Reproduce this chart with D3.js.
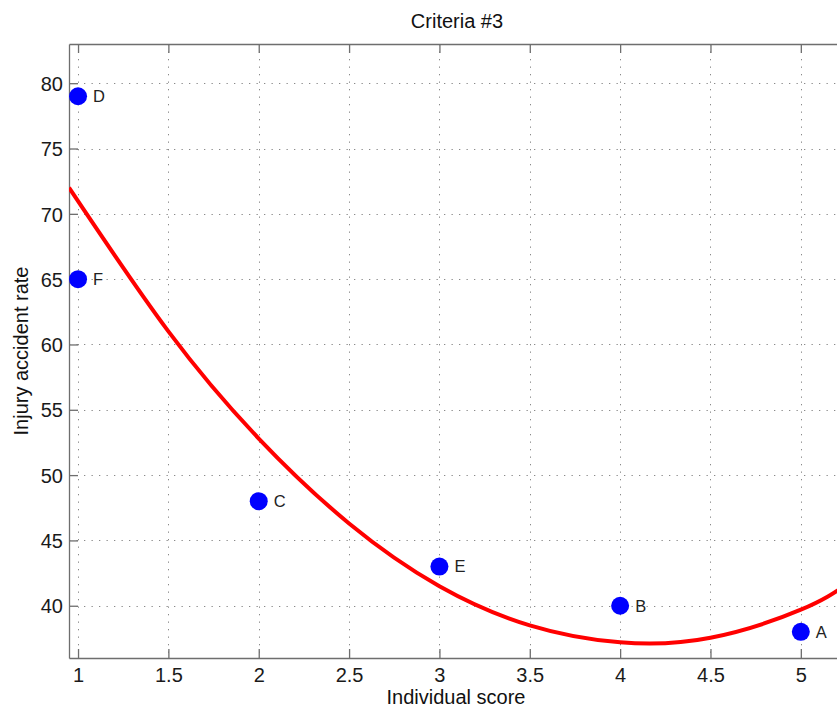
<!DOCTYPE html>
<html>
<head>
<meta charset="utf-8">
<script src="https://cdn.jsdelivr.net/npm/d3@7"></script>
<style>
  html, body { margin: 0; padding: 0; background: #fff; overflow: hidden; }
  svg { display: block; font-family: "Liberation Sans", Arial, sans-serif; }
</style>
</head>
<body>
<div id="chart"></div>
<script>
// Scatter points (site label, individual score, injury accident rate)
const labels = ["D", "F", "C", "E", "B", "A"];
const scores = [1, 1, 2, 3, 4, 5];
const rates = [79, 65, 48, 43, 40, 38];

// Red trend curve
const curveX = [0.95, 1.5, 2, 2.5, 3, 3.5, 4, 4.5, 5, 5.25];
const curveY = [72.0, 61.0, 52.8, 46.3, 41.5, 38.5, 37.2, 37.55, 39.7, 41.6];

const xTicks = [1, 1.5, 2, 2.5, 3, 3.5, 4, 4.5, 5];
const yTicks = [40, 45, 50, 55, 60, 65, 70, 75, 80];

const width = 837, height = 708;
const margin = {top: 44, left: 69, bottom: 50};
const plotRight = 846;

const svg = d3.select("#chart").append("svg")
    .attr("width", width)
    .attr("height", height);

const x = d3.scaleLinear().domain([0.95, 5.25]).range([margin.left, plotRight]);
const y = d3.scaleLinear().domain([36, 83]).range([height - margin.bottom, margin.top]);

const yTop = y(83), yBottom = y(36);

svg.append("defs").append("clipPath").attr("id", "clip")
    .append("rect")
    .attr("x", x(0.95)).attr("y", yTop)
    .attr("width", plotRight - x(0.95)).attr("height", yBottom - yTop);

// grid
const grid = svg.append("g")
    .attr("stroke", "#8a8a8a")
    .attr("stroke-width", 1)
    .attr("stroke-dasharray", "1.3,6.2");

grid.selectAll(".gx").data(xTicks).join("line")
    .attr("x1", d => Math.round(x(d)) + 0.5).attr("x2", d => Math.round(x(d)) + 0.5)
    .attr("y1", yTop).attr("y2", yBottom);

grid.selectAll(".gy").data(yTicks).join("line")
    .attr("y1", d => Math.round(y(d)) + 0.5).attr("y2", d => Math.round(y(d)) + 0.5)
    .attr("x1", x(0.95)).attr("x2", plotRight);

// axes (MATLAB box with inward ticks)
const axisColor = "#6e6e6e";
const fontSize = 20;

const xAxisBottom = svg.append("g")
    .attr("transform", `translate(0,${yBottom})`)
    .call(d3.axisBottom(x).tickValues(xTicks).tickSizeInner(-9).tickSizeOuter(0)
        .tickFormat(d3.format("")));

const xAxisTop = svg.append("g")
    .attr("transform", `translate(0,${yTop})`)
    .call(d3.axisTop(x).tickValues(xTicks).tickSizeInner(-9).tickSizeOuter(0)
        .tickFormat(""));

const yAxisLeft = svg.append("g")
    .attr("transform", `translate(${x(0.95)},0)`)
    .call(d3.axisLeft(y).tickValues(yTicks).tickSizeInner(-9).tickSizeOuter(0));

[xAxisBottom, xAxisTop, yAxisLeft].forEach(a => {
    a.select(".domain").attr("stroke", axisColor).attr("stroke-width", 1.3);
    a.selectAll(".tick line").attr("stroke", axisColor).attr("stroke-width", 1.3);
    a.selectAll("text")
        .attr("fill", "#1a1a1a")
        .style("font-size", fontSize + "px")
        .style("font-family", "'Liberation Sans', Arial, sans-serif");
});
yAxisLeft.selectAll("text").attr("x", -6).attr("dy", "0.36em");
xAxisBottom.selectAll("text").attr("y", 24).attr("dy", 0);

// curve
const plot = svg.append("g").attr("clip-path", "url(#clip)");

const line = d3.line()
    .x(d => x(d[0]))
    .y(d => y(d[1]))
    .curve(d3.curveNatural);

plot.append("path")
    .datum(d3.zip(curveX, curveY))
    .attr("fill", "none")
    .attr("stroke", "#ff0000")
    .attr("stroke-width", 4)
    .attr("stroke-linejoin", "round")
    .attr("d", line);

// points
const points = d3.zip(labels, scores, rates);

svg.append("g").selectAll("circle").data(points).join("circle")
    .attr("cx", d => x(d[1]))
    .attr("cy", d => y(d[2]))
    .attr("r", 9)
    .attr("fill", "#0000ff");

svg.append("g").selectAll("text").data(points).join("text")
    .attr("x", d => x(d[1]) + 15)
    .attr("y", d => y(d[2]))
    .attr("dy", "0.36em")
    .attr("fill", "#222")
    .style("font-size", "16.5px")
    .text(d => d[0]);

// titles
svg.append("text")
    .attr("x", 457)
    .attr("y", 28)
    .attr("text-anchor", "middle")
    .attr("fill", "#111")
    .style("font-size", "20px")
    .text("Criteria #3");

svg.append("text")
    .attr("x", 456)
    .attr("y", 704)
    .attr("text-anchor", "middle")
    .attr("fill", "#111")
    .style("font-size", "20px")
    .text("Individual score");

svg.append("text")
    .attr("transform", `translate(28,${(yTop + yBottom) / 2}) rotate(-90)`)
    .attr("text-anchor", "middle")
    .attr("fill", "#111")
    .style("font-size", "20px")
    .text("Injury accident rate");
</script>
</body>
</html>
